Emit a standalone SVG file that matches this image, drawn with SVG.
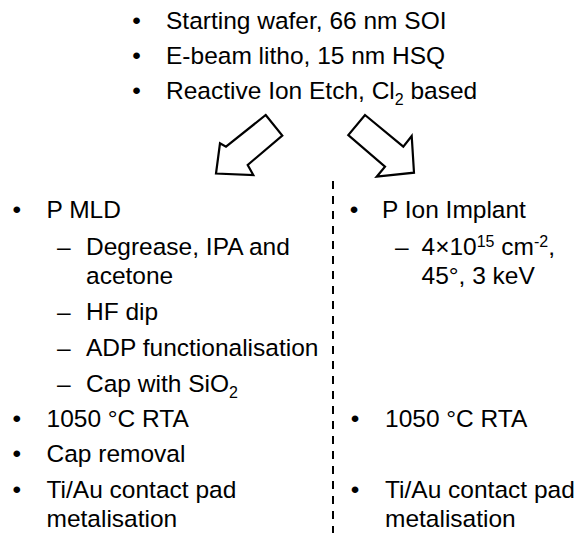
<svg xmlns="http://www.w3.org/2000/svg" width="577" height="533" viewBox="0 0 577 533">
<style>
text{font-family:"Liberation Sans",Arial,sans-serif;font-size:24.5px;fill:#000}
.b{text-anchor:middle}
.s{font-size:16px}
.arr{fill:#fff;stroke:#000;stroke-width:2.2;stroke-linejoin:miter}
.div{stroke:#000;stroke-width:2;stroke-dasharray:8 7;fill:none}
</style>
<rect width="577" height="533" fill="#fff"/>
<g id="top-steps">
<text class="b" x="136.5" y="29">•</text><text x="166" y="29">Starting wafer, 66 nm SOI</text>
<text class="b" x="136.5" y="64">•</text><text x="166" y="64">E-beam litho, 15 nm HSQ</text>
<text class="b" x="136.5" y="99">•</text><text x="166" y="99">Reactive Ion Etch, Cl<tspan class="s" dy="6">2</tspan><tspan dy="-6"> based</tspan></text>
</g>
<g id="connectors">
<polygon class="arr" points="265.7,115 282.3,135.5 247.7,165 253.3,175 216,173.5 220,143.3 226,146.7"/>
<polygon class="arr" points="365,115 403.3,146.7 411.7,136 414,172.7 376.7,176.7 385,166.7 348.3,135"/>
<line class="div" x1="333" y1="181" x2="333" y2="533"/>
</g>
<g id="mld-branch">
<text class="b" x="16.7" y="218">•</text><text x="46.5" y="218">P MLD</text>
<text x="57" y="255">–</text><text x="86" y="255">Degrease, IPA and</text>
<text x="86" y="283.5">acetone</text>
<text x="57" y="320">–</text><text x="86" y="320">HF dip</text>
<text x="57" y="356">–</text><text x="86" y="356">ADP functionalisation</text>
<text x="57" y="392">–</text><text x="86" y="392">Cap with SiO<tspan class="s" dy="6">2</tspan></text>
<text class="b" x="16.7" y="427">•</text><text x="46.5" y="427">1050 °C RTA</text>
<text class="b" x="16.7" y="462">•</text><text x="46.5" y="462">Cap removal</text>
<text class="b" x="16.7" y="498">•</text><text x="46.5" y="498">Ti/Au contact pad</text>
<text x="46.5" y="527">metalisation</text>
</g>
<g id="implant-branch">
<text class="b" x="354" y="218">•</text><text x="382" y="218">P Ion Implant</text>
<text x="395" y="255">–</text><text x="421.5" y="255">4×10<tspan class="s" dy="-8">15</tspan><tspan dy="8"> cm</tspan><tspan class="s" dy="-8">-2</tspan><tspan dy="8">,</tspan></text>
<text x="421.5" y="283.5">45°, 3 keV</text>
<text class="b" x="355" y="427">•</text><text x="385" y="427">1050 °C RTA</text>
<text class="b" x="355" y="498">•</text><text x="385" y="498">Ti/Au contact pad</text>
<text x="385" y="527">metalisation</text>
</g>
</svg>
